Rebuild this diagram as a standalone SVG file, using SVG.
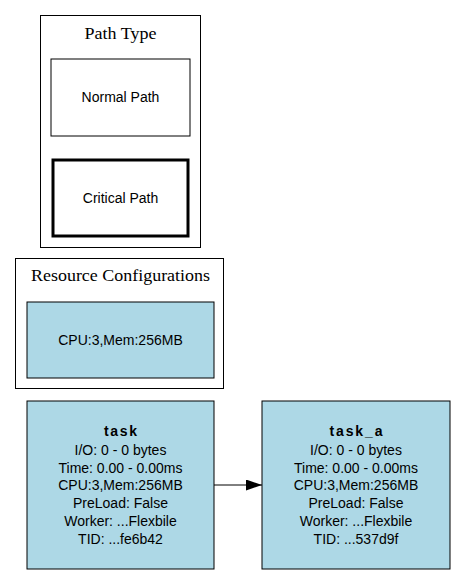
<svg xmlns="http://www.w3.org/2000/svg" width="455" height="574" viewBox="0 0 455 574">
<defs>
<style>
.cl{fill:#fff;stroke:#000;stroke-width:1}
.ct{font-family:"Liberation Serif",serif;font-size:17px;text-anchor:middle;fill:#000}
.t{font-family:"Liberation Sans",Arial,sans-serif;font-size:14px;text-anchor:middle;fill:#000}
.b{font-weight:bold}
.n{fill:#add8e6;stroke:#000;stroke-width:1}
.w{fill:#fff;stroke:#000}
</style>
<marker id="ah" markerWidth="16" markerHeight="11" refX="16" refY="5.5" orient="auto" markerUnits="userSpaceOnUse">
<path d="M0,0 L16,5.5 L0,11 Z" fill="#000"/>
</marker>
</defs>
<rect width="455" height="574" fill="#fff"/>
<g id="cluster_path_type">
<rect class="cl" x="40.5" y="15.5" width="160" height="232"/>
<text class="ct" x="120.5" y="38.5" textLength="72" lengthAdjust="spacingAndGlyphs">Path Type</text>
</g>
<g id="normal_path">
<rect class="w" x="51" y="59" width="139" height="77"/>
<text class="t" x="120.5" y="102">Normal Path</text>
</g>
<g id="critical_path">
<rect class="w" x="53" y="160" width="135" height="76" stroke-width="3"/>
<text class="t" x="120.5" y="203">Critical Path</text>
</g>
<g id="cluster_resources">
<rect class="cl" x="15.5" y="258.5" width="208" height="130"/>
<text class="ct" x="120.5" y="280.5" textLength="179" lengthAdjust="spacingAndGlyphs">Resource Configurations</text>
</g>
<g id="resource_cfg">
<rect class="n" x="27" y="302" width="187" height="76"/>
<text class="t" x="120.5" y="345">CPU:3,Mem:256MB</text>
</g>
<g id="connectors">
<line x1="214" y1="485" x2="262" y2="485" stroke="#000" stroke-width="1" marker-end="url(#ah)"/>
</g>
<g id="task">
<rect class="n" x="27" y="401" width="187" height="168"/>
<text class="t b" x="120.5" y="436" textLength="33" lengthAdjust="spacing">task</text>
<text class="t" x="120.5" y="455">I/O: 0 - 0 bytes</text>
<text class="t" x="120.5" y="472.5">Time: 0.00 - 0.00ms</text>
<text class="t" x="120.5" y="490">CPU:3,Mem:256MB</text>
<text class="t" x="120.5" y="508">PreLoad: False</text>
<text class="t" x="120.5" y="526">Worker: ...Flexbile</text>
<text class="t" x="120.5" y="544">TID: ...fe6b42</text>
</g>
<g id="task_a">
<rect class="n" x="262" y="401" width="188" height="168"/>
<text class="t b" x="356" y="436" textLength="53" lengthAdjust="spacing">task_a</text>
<text class="t" x="356" y="455">I/O: 0 - 0 bytes</text>
<text class="t" x="356" y="472.5">Time: 0.00 - 0.00ms</text>
<text class="t" x="356" y="490">CPU:3,Mem:256MB</text>
<text class="t" x="356" y="508">PreLoad: False</text>
<text class="t" x="356" y="526">Worker: ...Flexbile</text>
<text class="t" x="356" y="544">TID: ...537d9f</text>
</g>
</svg>
